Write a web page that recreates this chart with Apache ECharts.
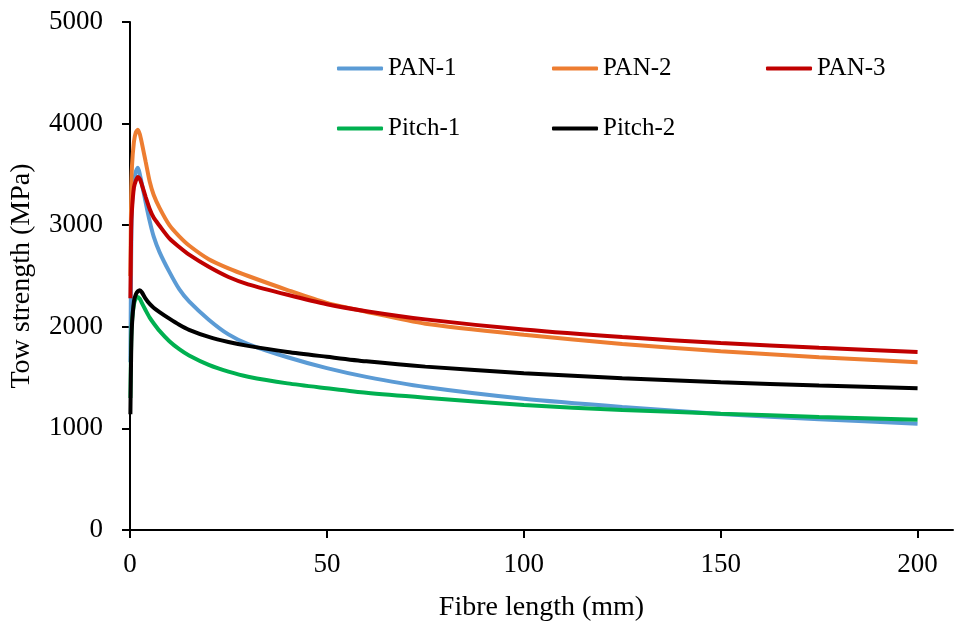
<!DOCTYPE html>
<html>
<head>
<meta charset="utf-8">
<script src="https://cdn.jsdelivr.net/npm/echarts@6/dist/echarts.min.js"></script>
<style>
  html, body { margin: 0; padding: 0; background: #fff; }
  #chart { width: 954px; height: 627px; }
</style>
</head>
<body>
<div id="chart"></div>
<script>
const lengths = [0.1, 0.3, 0.5, 1, 1.5, 2, 2.5, 3, 4, 5, 6, 7.5, 10, 12.5, 15, 20, 25, 30, 40, 50, 60, 75, 100, 125, 150, 175, 200];

// tow strength (MPa)
const pan1 = [1650, 2700, 3190, 3420, 3530, 3565, 3500, 3410, 3220, 3040, 2890, 2735, 2540, 2370, 2250, 2070, 1925, 1830, 1700, 1593, 1507, 1407, 1292, 1211, 1142, 1091, 1046];
const pan2 = [2500, 3300, 3580, 3820, 3915, 3940, 3895, 3810, 3620, 3430, 3300, 3170, 3000, 2890, 2800, 2665, 2575, 2500, 2362, 2235, 2148, 2031, 1922, 1831, 1759, 1701, 1652];
const pan3 = [2280, 2950, 3150, 3370, 3440, 3475, 3455, 3400, 3275, 3160, 3075, 2995, 2870, 2785, 2710, 2590, 2490, 2418, 2315, 2222, 2154, 2073, 1973, 1899, 1841, 1793, 1752];
const pitch1 = [1300, 1850, 2050, 2220, 2280, 2294, 2275, 2235, 2160, 2090, 2035, 1960, 1858, 1780, 1718, 1625, 1558, 1508, 1443, 1395, 1350, 1302, 1230, 1182, 1145, 1113, 1085];
const pitch2 = [1140, 1750, 2020, 2250, 2320, 2350, 2359, 2340, 2275, 2225, 2188, 2145, 2080, 2020, 1970, 1900, 1850, 1812, 1752, 1705, 1660, 1608, 1543, 1494, 1454, 1422, 1395];

const names = ['PAN-1', 'PAN-2', 'PAN-3', 'Pitch-1', 'Pitch-2'];
const colors = ['#5B9BD5', '#ED7D31', '#C00000', '#00B050', '#000000'];
const values = [pan1, pan2, pan3, pitch1, pitch2];

const xTicks = [0, 50, 100, 150, 200];

const FONT = '"Liberation Serif", "Times New Roman", serif';

// legend spots, one per item (two rows like the original)
const legendPos = [
    { left: 337, top: 56 },
    { left: 552, top: 56 },
    { left: 766, top: 56 },
    { left: 337, top: 116 },
    { left: 552, top: 116 }
];

const chart = echarts.init(document.getElementById('chart'));

const series = names.map((name, i) => ({
    name: name,
    type: 'line',
    data: lengths.map((l, j) => [l, values[i][j]]),
    showSymbol: false,
    symbol: 'none',
    smooth: 0.25,
    lineStyle: { color: colors[i], width: 4 },
    itemStyle: { color: colors[i] },
    z: 2 + i
}));

const legends = names.map((name, i) => ({
    data: [name],
    left: legendPos[i].left,
    top: legendPos[i].top,
    padding: 0,
    icon: 'roundRect',
    itemWidth: 46,
    itemHeight: 4,
    textStyle: { fontFamily: FONT, fontSize: 25, color: '#000' },
    selectedMode: false
}));

const option = {
    backgroundColor: '#fff',
    animation: false,
    grid: {
        left: 130,
        right: 1,
        top: 22,
        bottom: 94,
        containLabel: false
    },
    legend: legends,
    xAxis: {
        type: 'value',
        min: 0,
        max: 209,
        name: 'Fibre length (mm)',
        nameLocation: 'middle',
        nameGap: 64,
        nameTextStyle: { fontFamily: FONT, fontSize: 28, color: '#000' },
        axisLine: { show: true, onZero: false, lineStyle: { color: '#000', width: 2 } },
        axisTick: { show: true, length: 8, customValues: xTicks, lineStyle: { color: '#000', width: 2 } },
        axisLabel: { customValues: xTicks, margin: 21, fontFamily: FONT, fontSize: 27, color: '#000' },
        splitLine: { show: false }
    },
    yAxis: {
        type: 'value',
        min: 0,
        max: 5000,
        interval: 1000,
        name: 'Tow strength (MPa)',
        nameLocation: 'middle',
        nameGap: 94,
        nameTextStyle: { fontFamily: FONT, fontSize: 28, color: '#000' },
        axisLine: { show: true, lineStyle: { color: '#000', width: 2 } },
        axisTick: { show: true, inside: false, length: 8, lineStyle: { color: '#000', width: 2 } },
        axisLabel: {
            margin: 27,
            fontFamily: FONT,
            fontSize: 27,
            color: '#000',
            formatter: value => String(value)
        },
        splitLine: { show: false }
    },
    series: series
};

chart.setOption(option);

window.addEventListener('resize', function() {
    chart.resize();
});
</script>
</body>
</html>
